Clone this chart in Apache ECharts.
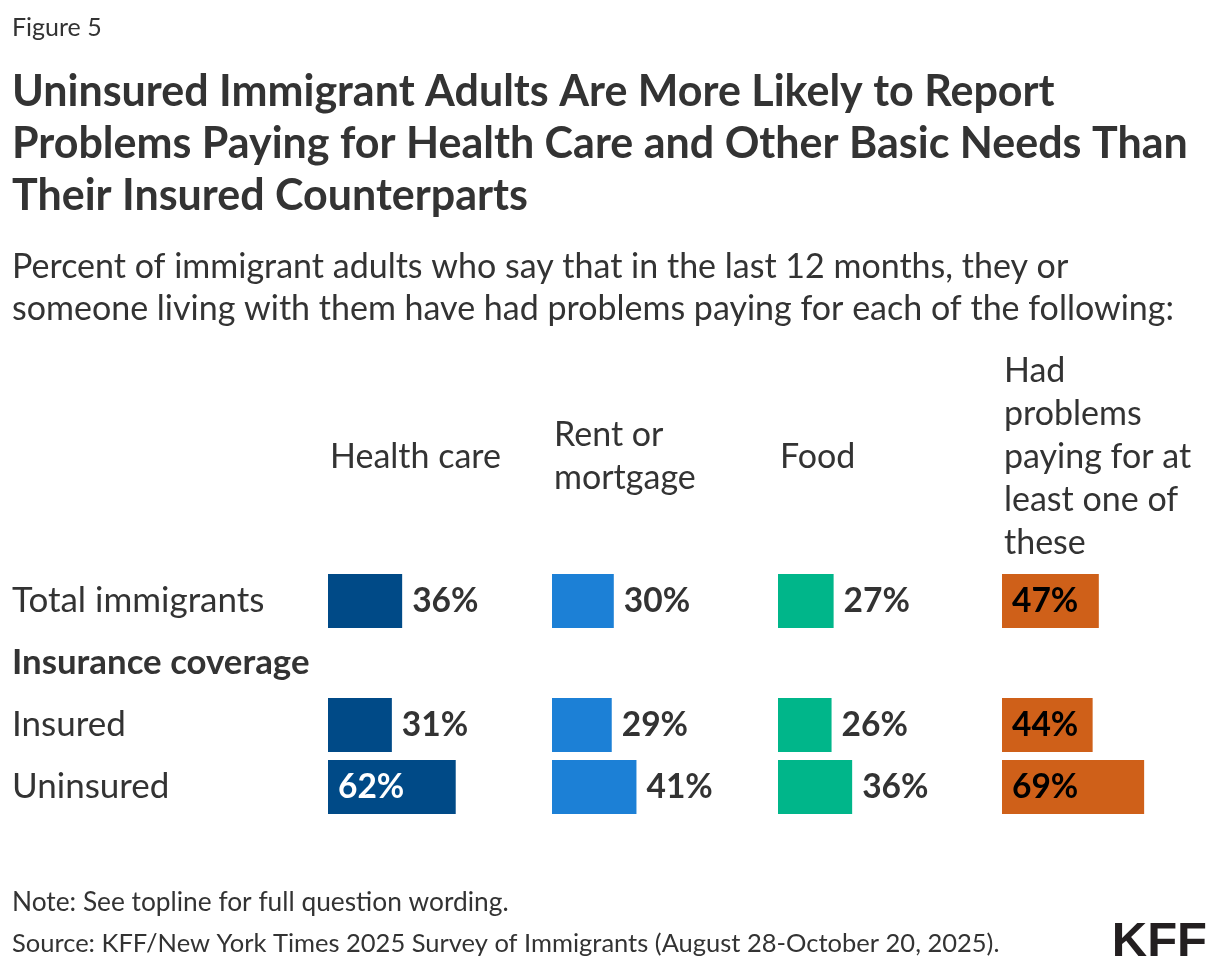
<!DOCTYPE html>
<html>
<head>
<meta charset="utf-8">
<script src="https://cdn.jsdelivr.net/npm/echarts@6/dist/echarts.min.js"></script>
<style>
html, body { margin: 0; padding: 0; background: #fff; }
#chart { width: 1220px; height: 974px; }
</style>
</head>
<body>
<div id="chart"></div>
<script>
// rows and columns
const rows = ['Total immigrants', 'Insurance coverage', 'Insured', 'Uninsured'];
const columns = ['Health care', 'Rent or\nmortgage', 'Food', 'Had\nproblems\npaying for at\nleast one of\nthese'];
const colors = ['#004a87', '#1c80d6', '#00b68a', '#cf6019'];

// values per column, '-' for the header row
const healthCare = [36, '-', 31, 62];
const rentMortgage = [30, '-', 29, 41];
const food = [27, '-', 26, 36];
const atLeastOne = [47, '-', 44, 69];
const values = [healthCare, rentMortgage, food, atLeastOne];

const FONT = 'Lato';
const gridLeft = [328, 552, 778, 1002];
const gridW = 206;

var chart = echarts.init(document.getElementById('chart'));

var grids = [], xAxes = [], yAxes = [], series = [], titles = [];

function txt(text, left, top, size, weight, lh) {
  return { text: text, left: left, top: top, padding: 0,
    textStyle: { fontFamily: FONT, fontSize: size, fontWeight: weight, color: '#333', lineHeight: lh } };
}

titles.push(txt('Figure 5', 12, 15, 25, 'normal', 26));
titles.push(txt('Uninsured Immigrant Adults Are More Likely to Report\nProblems Paying for Health Care and Other Basic Needs Than\nTheir Insured Counterparts',
  12, 66, 43, 'bold', 52));
titles.push(txt('Percent of immigrant adults who say that in the last 12 months, they or\nsomeone living with them have had problems paying for each of the following:',
  12, 246, 34, 'normal', 42));
titles.push(txt('Note: See topline for full question wording.', 12, 889, 26.3, 'normal', 28));
titles.push(txt('Source: KFF/New York Times 2025 Survey of Immigrants (August 28-October 20, 2025).', 12, 930, 25.5, 'normal', 28));
titles.push({ text: 'KFF', right: 13, top: 918, padding: 0,
  textStyle: { fontFamily: 'Liberation Sans', fontSize: 49, fontWeight: 'bold', color: '#231f20' } });

columns.forEach(function (name, i) {
  var lines = name.split('\n').length;
  titles.push(txt(name, gridLeft[i] + 2, 457 - lines * 43 / 2, 34, 'normal', 43));

  grids.push({ left: gridLeft[i], top: 570, width: gridW, height: 248 });
  xAxes.push({ type: 'value', gridIndex: i, min: 0, max: 100, show: false });
  yAxes.push({
    type: 'category', gridIndex: i, data: rows, inverse: true,
    axisLine: { show: false }, axisTick: { show: false },
    axisLabel: i === 0 ? {
      show: true, align: 'left', margin: 316,
      fontFamily: FONT, fontSize: 35, color: '#333',
      formatter: function (v) { return v === 'Insurance coverage' ? '{b|' + v + '}' : v; },
      rich: { b: { fontFamily: FONT, fontSize: 34.8, fontWeight: 'bold', color: '#333' } }
    } : { show: false }
  });
  series.push({
    type: 'bar', xAxisIndex: i, yAxisIndex: i,
    barCategoryGap: '13%',
    itemStyle: { color: colors[i] },
    data: values[i].map(function (v) {
      if (v === '-') return v;
      var inside = (i === 3) || v > 50;
      return {
        value: v,
        label: {
          show: true,
          position: inside ? 'insideLeft' : 'right',
          distance: 10,
          formatter: '{c}%',
          fontFamily: FONT, fontSize: 33.5, fontWeight: 'bold',
          color: inside ? (i === 3 ? '#000' : '#fff') : '#333'
        }
      };
    })
  });
});

chart.setOption({
  animation: false,
  title: titles,
  grid: grids,
  xAxis: xAxes,
  yAxis: yAxes,
  series: series
});
</script>
</body>
</html>
